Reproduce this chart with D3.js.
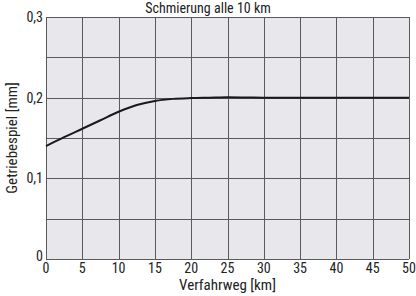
<!DOCTYPE html>
<html><head><meta charset="utf-8">
<script src="https://cdn.jsdelivr.net/npm/d3@7"></script>
<style>
body{margin:0;background:#fff;}
text{font-family:"Liberation Sans Narrow","Arial Narrow","Roboto Condensed","Liberation Sans",sans-serif;fill:#222;}
</style></head><body>
<svg id="c" width="416" height="296"></svg>
<script>
const distance = [0,2.5,5,7.5,10,12.5,15,17.5,20,22.5,25,27.5,30,35,40,45,50];
const backlash = [0.140,0.151,0.1615,0.172,0.1825,0.191,0.196,0.1985,0.1995,0.2,0.2005,0.2003,0.2,0.2,0.2,0.2,0.2];
const xTicks = [0,5,10,15,20,25,30,35,40,45,50];
const yTicks = [0,0.1,0.2,0.3];
const yGrid = [0,0.05,0.1,0.15,0.2,0.25,0.3];
const yTickLabels = ["0","0,1","0,2","0,3"];
const title = "Schmierung alle 10 km";
const xTitle = "Verfahrweg [km]";
const yTitle = "Getriebespiel [mm]";

const svg = d3.select("#c");
const m = {l:46, r:7, t:17, b:37};
const W = 416, H = 296;
const x = d3.scaleLinear().domain([0,50]).range([m.l, W-m.r]);
const y = d3.scaleLinear().domain([0,0.3]).range([H-m.b, m.t]);

svg.append("rect").attr("x",x(0)).attr("y",y(0.3)).attr("width",x(50)-x(0)).attr("height",y(0)-y(0.3)).attr("fill","#e8e7ec");

const g = svg.append("g");
g.selectAll(".vg").data(xTicks).join("line")
  .attr("x1",d=>Math.round(x(d))+0.5).attr("x2",d=>Math.round(x(d))+0.5)
  .attr("y1",y(0)).attr("y2",y(0.3)).attr("stroke","#5a5a5a").attr("stroke-width",1);
g.selectAll(".hg").data(yGrid).join("line")
  .attr("y1",d=>Math.round(y(d))+0.5).attr("y2",d=>Math.round(y(d))+0.5)
  .attr("x1",x(0)).attr("x2",x(50)).attr("stroke","#5a5a5a").attr("stroke-width",1);

const line = d3.line().x((d,i)=>x(distance[i])).y(d=>y(d)).curve(d3.curveMonotoneX);
svg.append("path").attr("d",line(backlash)).attr("fill","none").attr("stroke","#1a1a1a").attr("stroke-width",2);

svg.selectAll(".xt").data(xTicks).join("text")
  .attr("x",d=>x(d)).attr("y",y(0)+13.5).attr("text-anchor","middle").attr("font-size",14).text(d=>d);
svg.selectAll(".yt").data(yTicks).join("text")
  .attr("x",x(0)-3).attr("y",(d)=>y(d)+ (d===0?2:5)).attr("text-anchor","end").attr("font-size",14)
  .text((d,i)=>yTickLabels[i]);

svg.append("text").attr("x",208).attr("y",12.5).attr("text-anchor","middle").attr("font-size",14).text(title);
svg.append("text").attr("x",(x(0)+x(50))/2).attr("y",289.5).attr("text-anchor","middle").attr("font-size",15).text(xTitle);
svg.append("text").attr("transform",`translate(17,${(y(0)+y(0.3))/2}) rotate(-90)`).attr("text-anchor","middle").attr("font-size",15).text(yTitle);
</script></body></html>
